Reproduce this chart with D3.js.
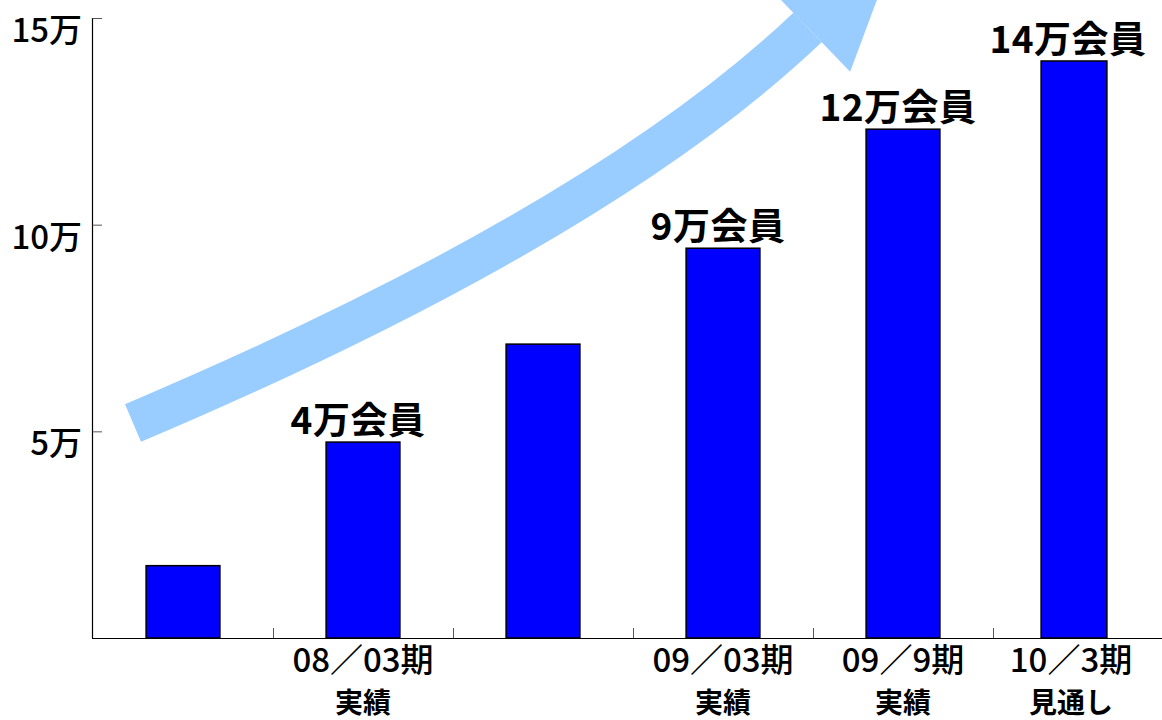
<!DOCTYPE html>
<html><head><meta charset="utf-8">
<script src="https://cdn.jsdelivr.net/npm/d3@7"></script>
<style>
html,body{margin:0;padding:0;background:#fff;}
text{font-family:"Noto Sans CJK JP","Noto Sans",sans-serif;}
</style></head>
<body><svg id="c" width="1162" height="720"></svg>
<script>
// ---- data ----
const categories = ["07/09", "08/03", "08/09", "09/03", "09/09", "10/03"];
const catLine1 = ["", "08／03期", "", "09／03期", "09／9期", "10／3期"];
const catLine2 = ["", "実績", "", "実績", "実績", "見通し"];
const values = [1.75, 4.74, 7.11, 9.43, 12.31, 13.96]; // 万会員
const valueLabels = ["", "4万会員", "", "9万会員", "12万会員", "14万会員"];
const yTicks = [5, 10, 15];
const yTickLabels = ["5万", "10万", "15万"];

const svg = d3.select("#c");
const x = d3.scaleBand().domain(categories).range([93, 1173]).padding(0);
const y = d3.scaleLinear().domain([0, 15]).range([638, 18]);
const barW = x.bandwidth() * 0.41;

// ---- arrow (decoration) ----
const arrowColor = "#99ccff";
const p0 = [133, 423], pc = [600, 225], p1 = [807.5, 27.5];
svg.append("path")
  .attr("d", `M${p0[0]},${p0[1]} Q${pc[0]},${pc[1]} ${p1[0]},${p1[1]}`)
  .attr("fill", "none").attr("stroke", arrowColor).attr("stroke-width", 41);
const dir = [0.72, -0.694];
const perp = [0.694, 0.72];
const halfBase = 61.5, headLen = 128;
svg.append("path")
  .attr("d", `M${p1[0] - perp[0]*halfBase},${p1[1] - perp[1]*halfBase}
              L${p1[0] + perp[0]*halfBase},${p1[1] + perp[1]*halfBase}
              L${p1[0] + dir[0]*headLen},${p1[1] + dir[1]*headLen}Z`)
  .attr("fill", arrowColor);

// ---- bars ----
svg.selectAll("rect.bar").data(values).enter().append("rect")
  .attr("class", "bar")
  .attr("x", (d, i) => x(categories[i]) + x.bandwidth() / 2 - barW / 2 - (i === 5 ? 5 : 0))
  .attr("y", d => y(d))
  .attr("width", (d, i) => i === 5 ? barW - 8 : barW)
  .attr("height", d => y(0) - y(d))
  .attr("fill", "#0000ff")
  .attr("stroke", "#000").attr("stroke-width", 1.5);

// ---- value labels ----
svg.selectAll("text.vl").data(values).enter().append("text")
  .attr("class", "vl")
  .attr("x", (d, i) => x(categories[i]) + x.bandwidth() / 2 - (i === 5 ? 15 : 5))
  .attr("y", d => y(d) - 8)
  .attr("text-anchor", "middle")
  .attr("font-size", 37).attr("font-weight", "bold").attr("fill", "#000")
  .attr("letter-spacing", 0.5)
  .text((d, i) => valueLabels[i]);

// ---- axes ----
const axisG = svg.append("g");
axisG.append("line").attr("x1", 92.5).attr("x2", 92.5).attr("y1", y(15)).attr("y2", y(0))
  .attr("stroke", "#000").attr("stroke-width", 1.2);
axisG.append("line").attr("x1", 92).attr("x2", 1162).attr("y1", y(0)+0.5).attr("y2", y(0)+0.5)
  .attr("stroke", "#000").attr("stroke-width", 1.2);
axisG.selectAll("line.yt").data(yTicks).enter().append("line")
  .attr("x1", 92.5).attr("x2", 102).attr("y1", d => y(d) + 0.5).attr("y2", d => y(d) + 0.5)
  .attr("stroke", "#555").attr("stroke-width", 1);
axisG.selectAll("text.yl").data(yTicks).enter().append("text")
  .attr("x", 82).attr("y", d => y(d) + 24)
  .attr("text-anchor", "end").attr("font-size", 33).attr("font-weight", 500).attr("fill", "#000")
  .text((d, i) => yTickLabels[i]);
axisG.selectAll("line.xt").data(categories.slice(1)).enter().append("line")
  .attr("x1", d => x(d) + 0.5).attr("x2", d => x(d) + 0.5)
  .attr("y1", y(0)).attr("y2", y(0) - 10)
  .attr("stroke", "#555").attr("stroke-width", 1);
const cx = (d, i) => x(d) + x.bandwidth()/2 + (i === 5 ? -12 : 0);
axisG.selectAll("text.cl1").data(categories).enter().append("text")
  .attr("class", "cl1")
  .attr("x", cx).attr("y", 672)
  .attr("text-anchor", "middle").attr("fill", "#000")
  .attr("font-size", 33).attr("font-weight", 500)
  .text((d, i) => catLine1[i]);
axisG.selectAll("text.cl2").data(categories).enter().append("text")
  .attr("class", "cl2")
  .attr("x", cx).attr("y", 713)
  .attr("text-anchor", "middle").attr("fill", "#000")
  .attr("font-size", 28).attr("font-weight", "bold")
  .text((d, i) => catLine2[i]);
</script></body></html>
